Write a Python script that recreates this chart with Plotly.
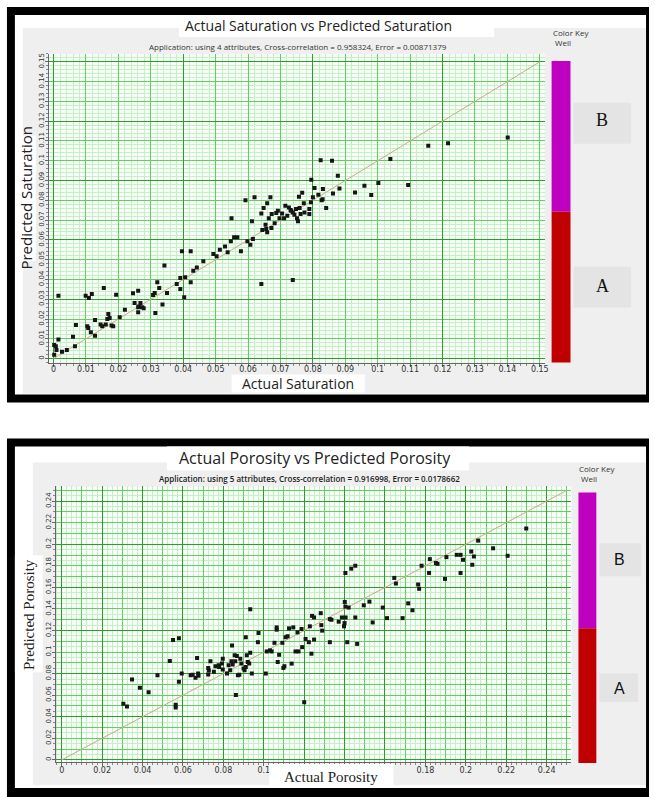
import plotly.graph_objects as go

# ---------------- DATA ----------------
sat_actual = [0.0002, 0.0007, 0.0002, 0.0015, 0.0015, 0.0009, 0.0026, 0.0041, 0.0060, 0.0069,
              0.0066, 0.0099, 0.0109, 0.0118, 0.0104, 0.0107, 0.0115, 0.0128, 0.0128, 0.0145,
              0.0150, 0.0155, 0.0161, 0.0166, 0.0169, 0.0173, 0.0179, 0.0184, 0.0193, 0.0204,
              0.0220, 0.0245, 0.0250, 0.0261, 0.0261, 0.0263, 0.0268, 0.0273, 0.0278, 0.0261,
              0.0307, 0.0312, 0.0320, 0.0326, 0.0314, 0.0336, 0.0342, 0.0350, 0.0380, 0.0391,
              0.0391, 0.0396, 0.0403, 0.0406, 0.0423, 0.0423, 0.0431, 0.0442, 0.0462, 0.0493,
              0.0503, 0.0513, 0.0529, 0.0537, 0.0547, 0.0557, 0.0567, 0.0549, 0.0578, 0.0592,
              0.0598, 0.0607, 0.0612, 0.0615, 0.0620, 0.0641, 0.0641, 0.0644, 0.0648, 0.0654,
              0.0656, 0.0659, 0.0659, 0.0664, 0.0669, 0.0672, 0.0673, 0.0682, 0.0687, 0.0692,
              0.0697, 0.0705, 0.0711, 0.0715, 0.0721, 0.0726, 0.0731, 0.0733, 0.0738, 0.0738,
              0.0743, 0.0748, 0.0751, 0.0754, 0.0757, 0.0759, 0.0762, 0.0767, 0.0772, 0.0774,
              0.0789, 0.0789, 0.0794, 0.0800, 0.0805, 0.0817, 0.0827, 0.0830,
              0.0824, 0.0795, 0.1401, 0.1217, 0.1156, 0.1039, 0.0859, 0.0877, 0.0831, 0.0862,
              0.0882, 0.0930, 0.0959, 0.0980, 0.1002, 0.1094, 0.0841]
sat_pred = [0.0069, 0.0062, 0.0020, 0.0318, 0.0096, 0.0044, 0.0035, 0.0044, 0.0111, 0.0170,
            0.0062, 0.0318, 0.0306, 0.0327, 0.0163, 0.0155, 0.0133, 0.0116, 0.0195, 0.0172,
            0.0163, 0.0357, 0.0172, 0.0200, 0.0226, 0.0205, 0.0167, 0.0163, 0.0323, 0.0209,
            0.0247, 0.0330, 0.0281, 0.0343, 0.0234, 0.0263, 0.0281, 0.0259, 0.0254, 0.0259,
            0.0322, 0.0332, 0.0386, 0.0357, 0.0231, 0.0273, 0.0470, 0.0332, 0.0377, 0.0407,
            0.0352, 0.0542, 0.0310, 0.0411, 0.0386, 0.0542, 0.0444, 0.0461, 0.0492, 0.0529,
            0.0517, 0.0550, 0.0566, 0.0537, 0.0593, 0.0613, 0.0613, 0.0710, 0.0542, 0.0801,
            0.0593, 0.0576, 0.0694, 0.0604, 0.0815, 0.0377, 0.0734, 0.0650, 0.0761, 0.0677,
            0.0655, 0.0638, 0.0785, 0.0710, 0.0815, 0.0660, 0.0731, 0.0684, 0.0736, 0.0747,
            0.0710, 0.0734, 0.0710, 0.0773, 0.0722, 0.0764, 0.0751, 0.0747, 0.0397, 0.0739,
            0.0727, 0.0756, 0.0710, 0.0694, 0.0818, 0.0761, 0.0731, 0.0838, 0.0785, 0.0739,
            0.0756, 0.0731, 0.0790, 0.0815, 0.0862, 0.0828, 0.0801, 0.0806,
            0.1003, 0.0904, 0.1118, 0.1089, 0.1076, 0.1009, 0.1000, 0.0924, 0.0857, 0.0835,
            0.0860, 0.0840, 0.0874, 0.0827, 0.0887, 0.0877, 0.0761]

por_actual = [0.0305, 0.0323, 0.0348, 0.0387, 0.0430, 0.0474, 0.0535, 0.0551, 0.0564, 0.0564,
              0.0580, 0.0580, 0.0594, 0.0638, 0.0648, 0.0662, 0.0670, 0.0675, 0.0677, 0.0725,
              0.0725, 0.0728, 0.0736, 0.0753, 0.0761, 0.0777, 0.0779, 0.0793, 0.0797, 0.0797,
              0.0818, 0.0826, 0.0834, 0.0840, 0.0843, 0.0846, 0.0856, 0.0859, 0.0862, 0.0867,
              0.0872, 0.0879, 0.0884, 0.0889, 0.0900, 0.0905, 0.0911, 0.0911, 0.0916, 0.0921,
              0.0928, 0.0933, 0.0933, 0.0941, 0.0971, 0.0974, 0.1010, 0.1015, 0.1031, 0.1039,
              0.1053, 0.1064, 0.1064, 0.1069, 0.1076, 0.1092, 0.1097, 0.1102, 0.1108, 0.1118,
              0.1125, 0.1138, 0.1146, 0.1157, 0.1167, 0.1172, 0.1187, 0.1190, 0.1200, 0.1207,
              0.1223, 0.1228, 0.1236, 0.1239, 0.1249, 0.1249, 0.1282, 0.1285, 0.1289,
              0.2299, 0.2207, 0.2135, 0.2061, 0.2032, 0.2040, 0.2027, 0.1986, 0.1974, 0.1974,
              0.1955, 0.1904, 0.1897, 0.1860, 0.1852, 0.1822, 0.1818, 0.1781, 0.1764, 0.1769,
              0.1715, 0.1736, 0.1646, 0.1654, 0.1589, 0.1523, 0.1495, 0.1453, 0.1433, 0.1404,
              0.1401, 0.1404, 0.1420,
              0.1327, 0.1335, 0.1327, 0.1371, 0.1387, 0.1397, 0.1400, 0.1405, 0.1413, 0.1453,
              0.1462, 0.1539, 0.1610, 0.1687]
por_pred = [0.0520, 0.0495, 0.0746, 0.0670, 0.0627, 0.0786, 0.0917, 0.1113, 0.0511, 0.0486,
            0.1128, 0.0725, 0.0801, 0.0786, 0.0789, 0.0761, 0.0945, 0.0801, 0.0780, 0.0792,
            0.0853, 0.0830, 0.0914, 0.0817, 0.0869, 0.0878, 0.0862, 0.0893, 0.0939, 0.0838,
            0.0801, 0.0878, 0.0832, 0.0915, 0.1061, 0.0884, 0.0970, 0.0915, 0.0603, 0.0963,
            0.0786, 0.0789, 0.0939, 0.0893, 0.0847, 0.0832, 0.0862, 0.1138, 0.0970, 0.0908,
            0.0893, 0.0994, 0.1397, 0.0801, 0.1092, 0.1177, 0.0801, 0.1006, 0.1016, 0.1006,
            0.1086, 0.1229, 0.1208, 0.0908, 0.0975, 0.1086, 0.0853, 0.0869, 0.1138, 0.1147,
            0.1220, 0.0893, 0.1229, 0.1006, 0.1183, 0.1006, 0.1214, 0.1046, 0.0535, 0.1122,
            0.1092, 0.1239, 0.0985, 0.1336, 0.1116, 0.1321, 0.1361, 0.1250, 0.1199,
            0.2147, 0.1893, 0.1963, 0.2034, 0.1810, 0.1887, 0.1933, 0.1856, 0.1902, 0.1734,
            0.1902, 0.1881, 0.1679, 0.1819, 0.1826, 0.1862, 0.1734, 0.1801, 0.1627, 0.1587,
            0.1452, 0.1388, 0.1688, 0.1636, 0.1413, 0.1468, 0.1434, 0.1801, 0.1774, 0.1734,
            0.1465, 0.1422, 0.1413,
            0.1306, 0.1300, 0.1092, 0.1282, 0.1321, 0.1239, 0.1269, 0.1321, 0.1092, 0.1321,
            0.1076, 0.1275, 0.1315, 0.1315]

sat_diag = [0, 0.15]
por_diag = [0, 0.25]

sat_ticks = [0, 0.01, 0.02, 0.03, 0.04, 0.05, 0.06, 0.07, 0.08, 0.09, 0.10, 0.11, 0.12, 0.13, 0.14, 0.15]
sat_ticktext = ["0", "0.01", "0.02", "0.03", "0.04", "0.05", "0.06", "0.07", "0.08", "0.09",
                "0.1", "0.11", "0.12", "0.13", "0.14", "0.15"]
por_ticks = [0, 0.02, 0.04, 0.06, 0.08, 0.10, 0.12, 0.14, 0.16, 0.18, 0.20, 0.22, 0.24]
por_ticktext = ["0", "0.02", "0.04", "0.06", "0.08", "0.1", "0.12", "0.14", "0.16", "0.18",
                "0.2", "0.22", "0.24"]
# x labels of the porosity chart that the reference hides behind its axis-title box
por_xticktext = ["0", "0.02", "0.04", "0.06", "0.08", "0.1", "", "", "", "0.18",
                 "0.2", "0.22", "0.24"]

sat_title = "Actual Saturation vs Predicted Saturation"
sat_sub = "Application: using 4 attributes, Cross-correlation = 0.958324, Error = 0.00871379"
por_title = "Actual Porosity vs Predicted Porosity"
por_sub = "Application: using 5 attributes, Cross-correlation = 0.916998, Error = 0.0178662"
well_names = ["B", "A"]

# ---------------- LAYOUT HELPERS ----------------
W, H = 655, 797
def px(x): return x / W
def py(y): return 1 - y / H

shapes = []
annotations = []

def rect(x0, y0, x1, y1, color, layer="below"):
    shapes.append(dict(type="rect", xref="paper", yref="paper", x0=px(x0), x1=px(x1),
                       y0=py(y1), y1=py(y0), fillcolor=color, layer=layer,
                       line=dict(width=0)))

def text(x, y, s, size, family="Open Sans", color="#222", angle=0, xanchor="center",
         align="center", weight=None):
    f = dict(size=size, family=family, color=color)
    if weight:
        f["weight"] = weight
    annotations.append(dict(x=px(x), y=py(y), xref="paper", yref="paper", text=s,
                            showarrow=False, font=f, textangle=angle, xanchor=xanchor,
                            yanchor="middle", align=align))

GRAY = "#efefef"
PLOTBG = "#f7fdf7"
MINOR = "#c6efc6"
MID = "#62cf62"
DARK = "#2a9d2a"

# ---- top panel ----
rect(7, 6, 653, 402, "#000000")
rect(15, 14, 650, 394, "#ffffff")
rect(23, 27, 650, 393, GRAY)
rect(180, 14, 497, 36, "#ffffff")
rect(16, 135, 36, 260, "#ffffff")
rect(49, 53, 548, 362, PLOTBG)
rect(233, 374, 367, 392, "#ffffff", layer="above")
rect(555, 60, 574, 211, "#c000c0")
rect(555, 211, 574, 362, "#c00000")
rect(577, 102, 635, 143, "#e4e4e4")
rect(577, 266, 635, 307, "#e4e4e4")

text(320, 25, sat_title, 14, family="Open Sans")
text(300, 46, sat_sub, 8, family="Open Sans", color="#333")
text(26, 197, "Predicted Saturation", 15, family="Open Sans", angle=-90)
text(300, 383, "Actual Saturation", 14, family="Open Sans")
text(554, 37, "Color Key<br> Well", 8, family="Open Sans", color="#333", xanchor="left", align="left")
text(606, 119, well_names[0], 18, family="Liberation Serif", color="#111")
text(606, 285, well_names[1], 18, family="Liberation Serif", color="#111")

# ---- bottom panel ----
rect(7, 438, 653, 797, "#000000")
rect(15, 446, 650, 788, "#ffffff")
rect(33, 462, 650, 785, GRAY)
rect(168, 446, 472, 470, "#ffffff")
rect(15, 555, 43, 672, "#ffffff")
rect(56, 486, 575, 762, PLOTBG)
rect(271, 764, 396, 788, "#ffffff", layer="above")
rect(582, 492, 600, 628, "#c000c0")
rect(582, 628, 600, 763, "#c00000")
rect(603, 543, 645, 576, "#e4e4e4")
rect(603, 673, 642, 702, "#e4e4e4")

text(317, 458, por_title, 16, family="Open Sans")
text(311, 478, por_sub, 8, family="Open Sans", color="#222", weight=600)
text(29, 614, "Predicted Porosity", 15, family="Liberation Serif", angle=-90)
text(333, 777, "Actual Porosity", 15, family="Liberation Serif")
text(581, 473, "Color Key<br> Well", 8, family="Open Sans", color="#333", xanchor="left", align="left")
text(623, 559, well_names[0], 16, family="Liberation Sans", color="#111")
text(623, 688, well_names[1], 16, family="Liberation Sans", color="#111")

# ---------------- FIGURE ----------------
fig = go.Figure()
mk = dict(symbol="square", size=4, color="#151515")
fig.add_trace(go.Scatter(x=sat_diag, y=sat_diag, mode="lines", line=dict(color="#c8ab8a", width=1),
                         xaxis="x", yaxis="y", hoverinfo="skip"))
fig.add_trace(go.Scatter(x=sat_actual, y=sat_pred, mode="markers", marker=mk, xaxis="x", yaxis="y"))
fig.add_trace(go.Scatter(x=por_diag, y=por_diag, mode="lines", line=dict(color="#c8ab8a", width=1),
                         xaxis="x2", yaxis="y2", hoverinfo="skip"))
fig.add_trace(go.Scatter(x=por_actual, y=por_pred, mode="markers", marker=mk, xaxis="x2", yaxis="y2"))
for xa, ya in [("x3", "y3"), ("x5", "y5"), ("x4", "y4"), ("x6", "y6")]:
    fig.add_trace(go.Scatter(x=[None], y=[None], xaxis=xa, yaxis=ya, mode="markers",
                             hoverinfo="skip"))

tdom_x = [px(49), px(548)]
tdom_y = [py(362), py(53)]
bdom_x = [px(56), px(575)]
bdom_y = [py(762), py(486)]
sat_xr = [-0.0015, 0.1515]
sat_yr = [-0.002, 0.154]
por_xr = [-0.003, 0.2523]
por_yr = [-0.002, 0.2537]

def main_axis(dom, rng, anchor, tv, tt, minor_dtick, angle=0, size=8, standoff=-2):
    return dict(domain=dom, range=rng, anchor=anchor, tickvals=tv, ticktext=tt,
                showgrid=False, zeroline=False, showline=True, linecolor="#666", linewidth=1,
                ticks="outside", ticklen=3, tickcolor="#666",
                tickfont=dict(family="DejaVu Sans", size=size, color="#333"),
                tickangle=angle, fixedrange=True, ticklabelstandoff=standoff,
                minor=dict(dtick=minor_dtick, tick0=0, showgrid=True, gridcolor=MINOR,
                           gridwidth=1, ticks="outside", ticklen=2, tickcolor="#888"))

def grid_axis(dom, rng, overlay, anchor, dtick, color):
    return dict(domain=dom, range=rng, overlaying=overlay, anchor=anchor, showgrid=True,
                gridcolor=color, gridwidth=1, zeroline=False, showline=False,
                showticklabels=False, ticks="", fixedrange=True, dtick=dtick, tick0=0)

fig.update_layout(
    width=W, height=H, margin=dict(l=0, r=0, t=0, b=0),
    paper_bgcolor="#ffffff", plot_bgcolor="rgba(0,0,0,0)", showlegend=False,
    shapes=shapes, annotations=annotations,
    xaxis=main_axis(tdom_x, sat_xr, "y", sat_ticks, sat_ticktext, 0.002, standoff=-4),
    yaxis=main_axis(tdom_y, sat_yr, "x", sat_ticks, sat_ticktext, 0.002, angle=-90, size=7),
    xaxis3=grid_axis(tdom_x, sat_xr, "x", "y3", 0.01, MID),
    yaxis3=grid_axis(tdom_y, sat_yr, "y", "x3", 0.01, MID),
    xaxis5=grid_axis(tdom_x, sat_xr, "x", "y5", 0.04, DARK),
    yaxis5=grid_axis(tdom_y, sat_yr, "y", "x5", 0.03, DARK),
    xaxis2=main_axis(bdom_x, por_xr, "y2", por_ticks, por_xticktext, 0.0025, standoff=-3),
    yaxis2=main_axis(bdom_y, por_yr, "x2", por_ticks, por_ticktext, 0.005, angle=-90, size=7),
    xaxis4=grid_axis(bdom_x, por_xr, "x2", "y4", 0.01, MID),
    yaxis4=grid_axis(bdom_y, por_yr, "y2", "x4", 0.01, MID),
    xaxis6=grid_axis(bdom_x, por_xr, "x2", "y6", 0.02, DARK),
    yaxis6=grid_axis(bdom_y, por_yr, "y2", "x6", 0.04, DARK),
)

fig.write_html("out.html", config={"displayModeBar": False},
               post_script="document.body.style.margin='0px';")
